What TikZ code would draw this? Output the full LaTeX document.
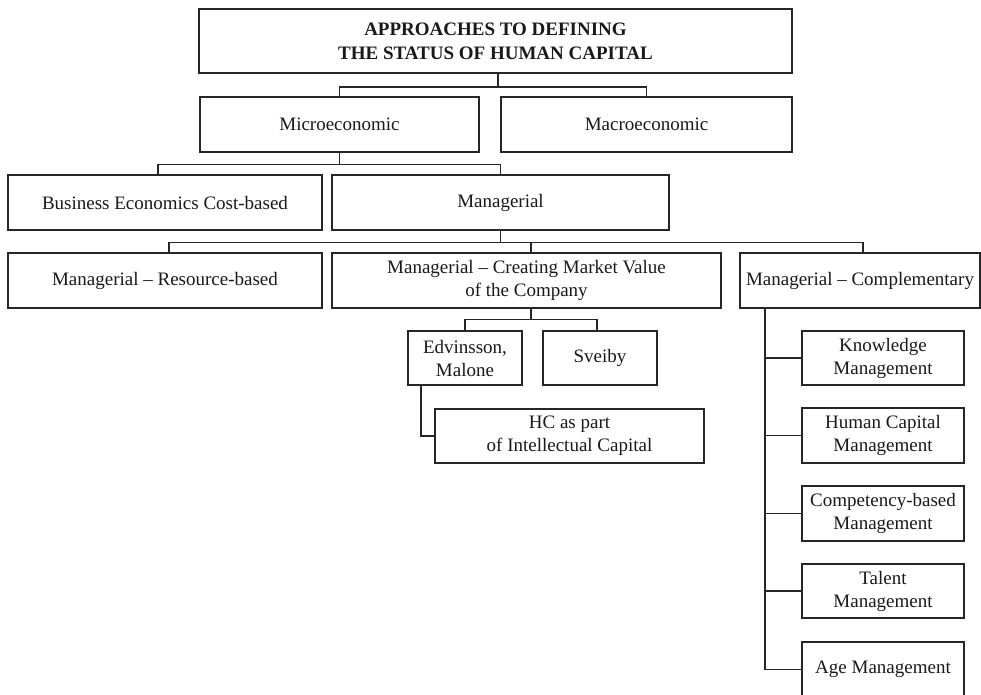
\documentclass[tikz,border=0pt]{standalone}
\usepackage{fontspec}
\setmainfont{Liberation Serif}
\begin{document}
\begin{tikzpicture}[x=1pt,y=-1pt,
  box/.style={draw=black!85, line width=1.4pt, inner sep=0pt, align=center,
    text=black!90, font=\fontsize{19}{23}\selectfont},
  headbox/.style={box, line width=2.2pt, font=\fontsize{19}{24}\selectfont\bfseries},
  link/.style={draw=black!85, line width=1.4pt},
  trunk/.style={draw=black!85, line width=2pt}]
\useasboundingbox (0,0) rectangle (981,694);

% title and first level
\node[headbox, minimum width=593, minimum height=64] (title) at (495.5,41)
  {APPROACHES TO DEFINING\\THE STATUS OF HUMAN CAPITAL};
\node[box, minimum width=279, minimum height=55] (micro) at (339.5,124.5) {Microeconomic};
\node[box, minimum width=291, minimum height=55] (macro) at (646.5,124.5) {Macroeconomic};

% second level
\node[box, minimum width=314, minimum height=55] (bus) at (165,202.5) {Business Economics Cost-based};
\node[box, minimum width=337, minimum height=55] (mgr) at (500.5,202.5) {Managerial};

% third level
\node[box, minimum width=314, minimum height=55] (res) at (165,280.5) {Managerial -- Resource-based};
\node[box, minimum width=389, minimum height=55] (cmv) at (526.5,280.5)
  {Managerial -- Creating Market Value\\of the Company};
\node[box, minimum width=240, minimum height=55] (comp) at (860,280.5) {Managerial -- Complementary};

% market value branch
\node[box, minimum width=114, minimum height=54] (edv) at (465,358) {Edvinsson,\\Malone};
\node[box, minimum width=114, minimum height=54] (sve) at (600,358) {Sveiby};
\node[box, minimum width=269, minimum height=54] (hc) at (569.5,436) {HC as part\\of Intellectual Capital};

% complementary branch
\node[box, minimum width=162, minimum height=54] (km) at (883,358) {Knowledge\\Management};
\node[box, minimum width=162, minimum height=55] (hcm) at (883,435.5) {Human Capital\\Management};
\node[box, minimum width=162, minimum height=55] (cbm) at (883,513.5) {Competency-based\\Management};
\node[box, minimum width=162, minimum height=54] (tm) at (883,591) {Talent\\Management};
\node[box, minimum width=162, minimum height=55] (am) at (883,669.5) {Age Management};

% connectors
\draw[link] ([xshift=2.5pt]title.south) -- ++(0,13) coordinate (j1);
\draw[link] (micro.north) |- (j1) -| (macro.north);

\draw[link] (micro.south) -- ++(0,12) coordinate (j2);
\draw[link] ([xshift=-7pt]bus.north) |- (j2) -| (mgr.north);

\draw[link] (mgr.south) -- ++(0,12) coordinate (j3);
\draw[link] ([xshift=4pt]res.north) |- (j3) -| ([xshift=4.5pt]cmv.north);
\draw[link] (j3) -| ([xshift=3pt]comp.north);

\draw[link] ([xshift=4.5pt]cmv.south) -- ++(0,11) coordinate (j4);
\draw[link] (edv.north) |- (j4) -| ([xshift=-3pt]sve.north);

\draw[link] ([xshift=-44pt]edv.south) |- (hc.west);

\coordinate (trk) at ([xshift=26pt]comp.south west);
\draw[trunk] (trk) -- (trk |- am.west);
\draw[link] (trk |- am.west) -- (am.west);
\draw[link] (trk |- km.west) -- (km.west);
\draw[link] (trk |- hcm.west) -- (hcm.west);
\draw[link] (trk |- cbm.west) -- (cbm.west);
\draw[link] (trk |- tm.west) -- (tm.west);
\end{tikzpicture}
\end{document}
